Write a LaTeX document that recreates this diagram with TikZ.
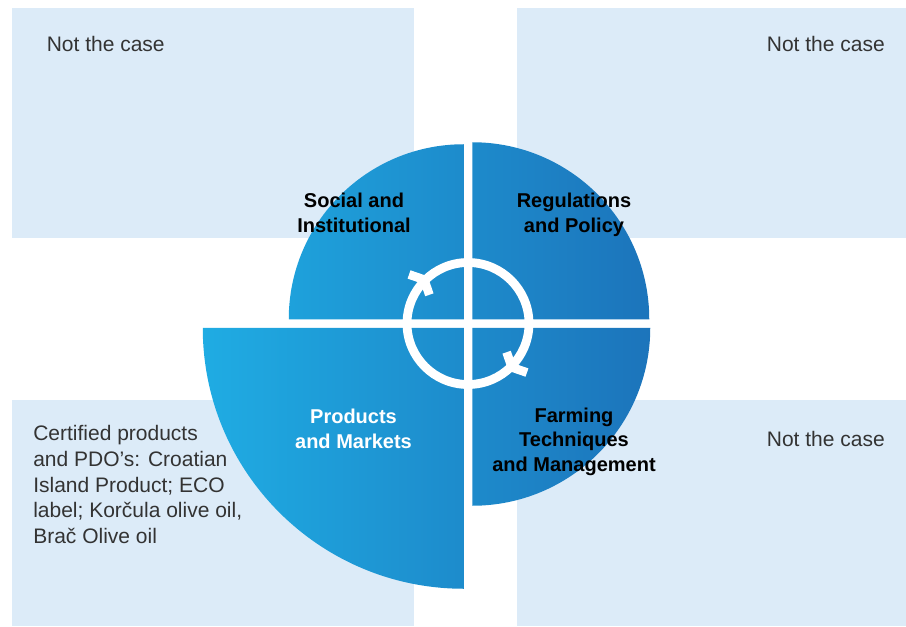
\documentclass[tikz,border=0pt]{standalone}
\usepackage{fontspec}
\setmainfont{Liberation Sans}
\definecolor{boxblue}{RGB}{220,235,248}
\definecolor{discleft}{RGB}{31,172,227}
\definecolor{discright}{RGB}{28,116,187}
\definecolor{bodytext}{RGB}{51,51,51}
\tikzset{
	casebox/.style={fill=boxblue},
	casetext/.style={inner sep=0pt, text=bodytext, font=\fontsize{15.75}{19.2}\selectfont},
	segtext/.style={inner sep=0pt, align=center, font=\fontsize{15}{18.6}\selectfont\bfseries},
	ring/.style={draw=white, line width=6.6pt},
	chevron/.style={draw=white, line width=6.6pt, line cap=butt, line join=miter}
}
\begin{document}
\begin{tikzpicture}[x=0.75pt,y=0.75pt]
	\useasboundingbox (0,0) rectangle (906,626);
	% background boxes
	\fill[casebox] (12,388) rectangle (414,618);
	\fill[casebox] (517,388) rectangle (906,618);
	\fill[casebox] (12,0) rectangle (414,226);
	\fill[casebox] (517,0) rectangle (906,226);
	\coordinate (C) at (468,302.5);
	% quarter segments
	\begin{scope}
		\clip (463.75,306.75) -- ++(-175,0) arc[start angle=180, end angle=90, radius=175] -- cycle
			(472.25,306.75) -- ++(177,0) arc[start angle=0, end angle=90, radius=177] -- cycle
			(463.75,298.25) -- ++(-261,0) arc[start angle=180, end angle=270, radius=261] -- cycle
			(472.25,298.25) -- ++(178,0) arc[start angle=360, end angle=270, radius=178] -- cycle;
		\shade[left color=discleft, right color=discright] (202,37) rectangle (651,484);
	\end{scope}
	% cycle ring
	\draw[ring] (C) circle[radius=61];
	\begin{scope}[shift={(C)}]
		\draw[chevron] ([shift={(161:16)}]135:62) -- (135:62) -- ++(289:16);
		\draw[chevron] ([shift={(341:16)}]315:62) -- (315:62) -- ++(109:16);
	\end{scope}
	\node (social) at (354,393.3) [segtext, anchor=base] {Social and\\Institutional};
	\node (regulation) at (574,393.3) [segtext, anchor=base] {Regulations\\and Policy};
	\node (products) at (353.5,177.7) [segtext, anchor=base, text=white] {Products\\and Markets};
	\node (farming) at (574,154.3) [segtext, anchor=base] {Farming\\Techniques\\and Management};
	\node (caseTL) at (46.5,574.3) [casetext, anchor=base west] {Not the case};
	\node (caseTR) at (885,574.3) [casetext, anchor=base east] {Not the case};
	\node (caseBR) at (885,179.3) [casetext, anchor=base east] {Not the case};
	\node (caseBL) at (33,82.7) [casetext, anchor=base west, align=left] {Certified products\\and PDO’s: Croatian\\Island Product; ECO\\label; Korčula olive oil,\\Brač Olive oil};
\end{tikzpicture}
\end{document}
